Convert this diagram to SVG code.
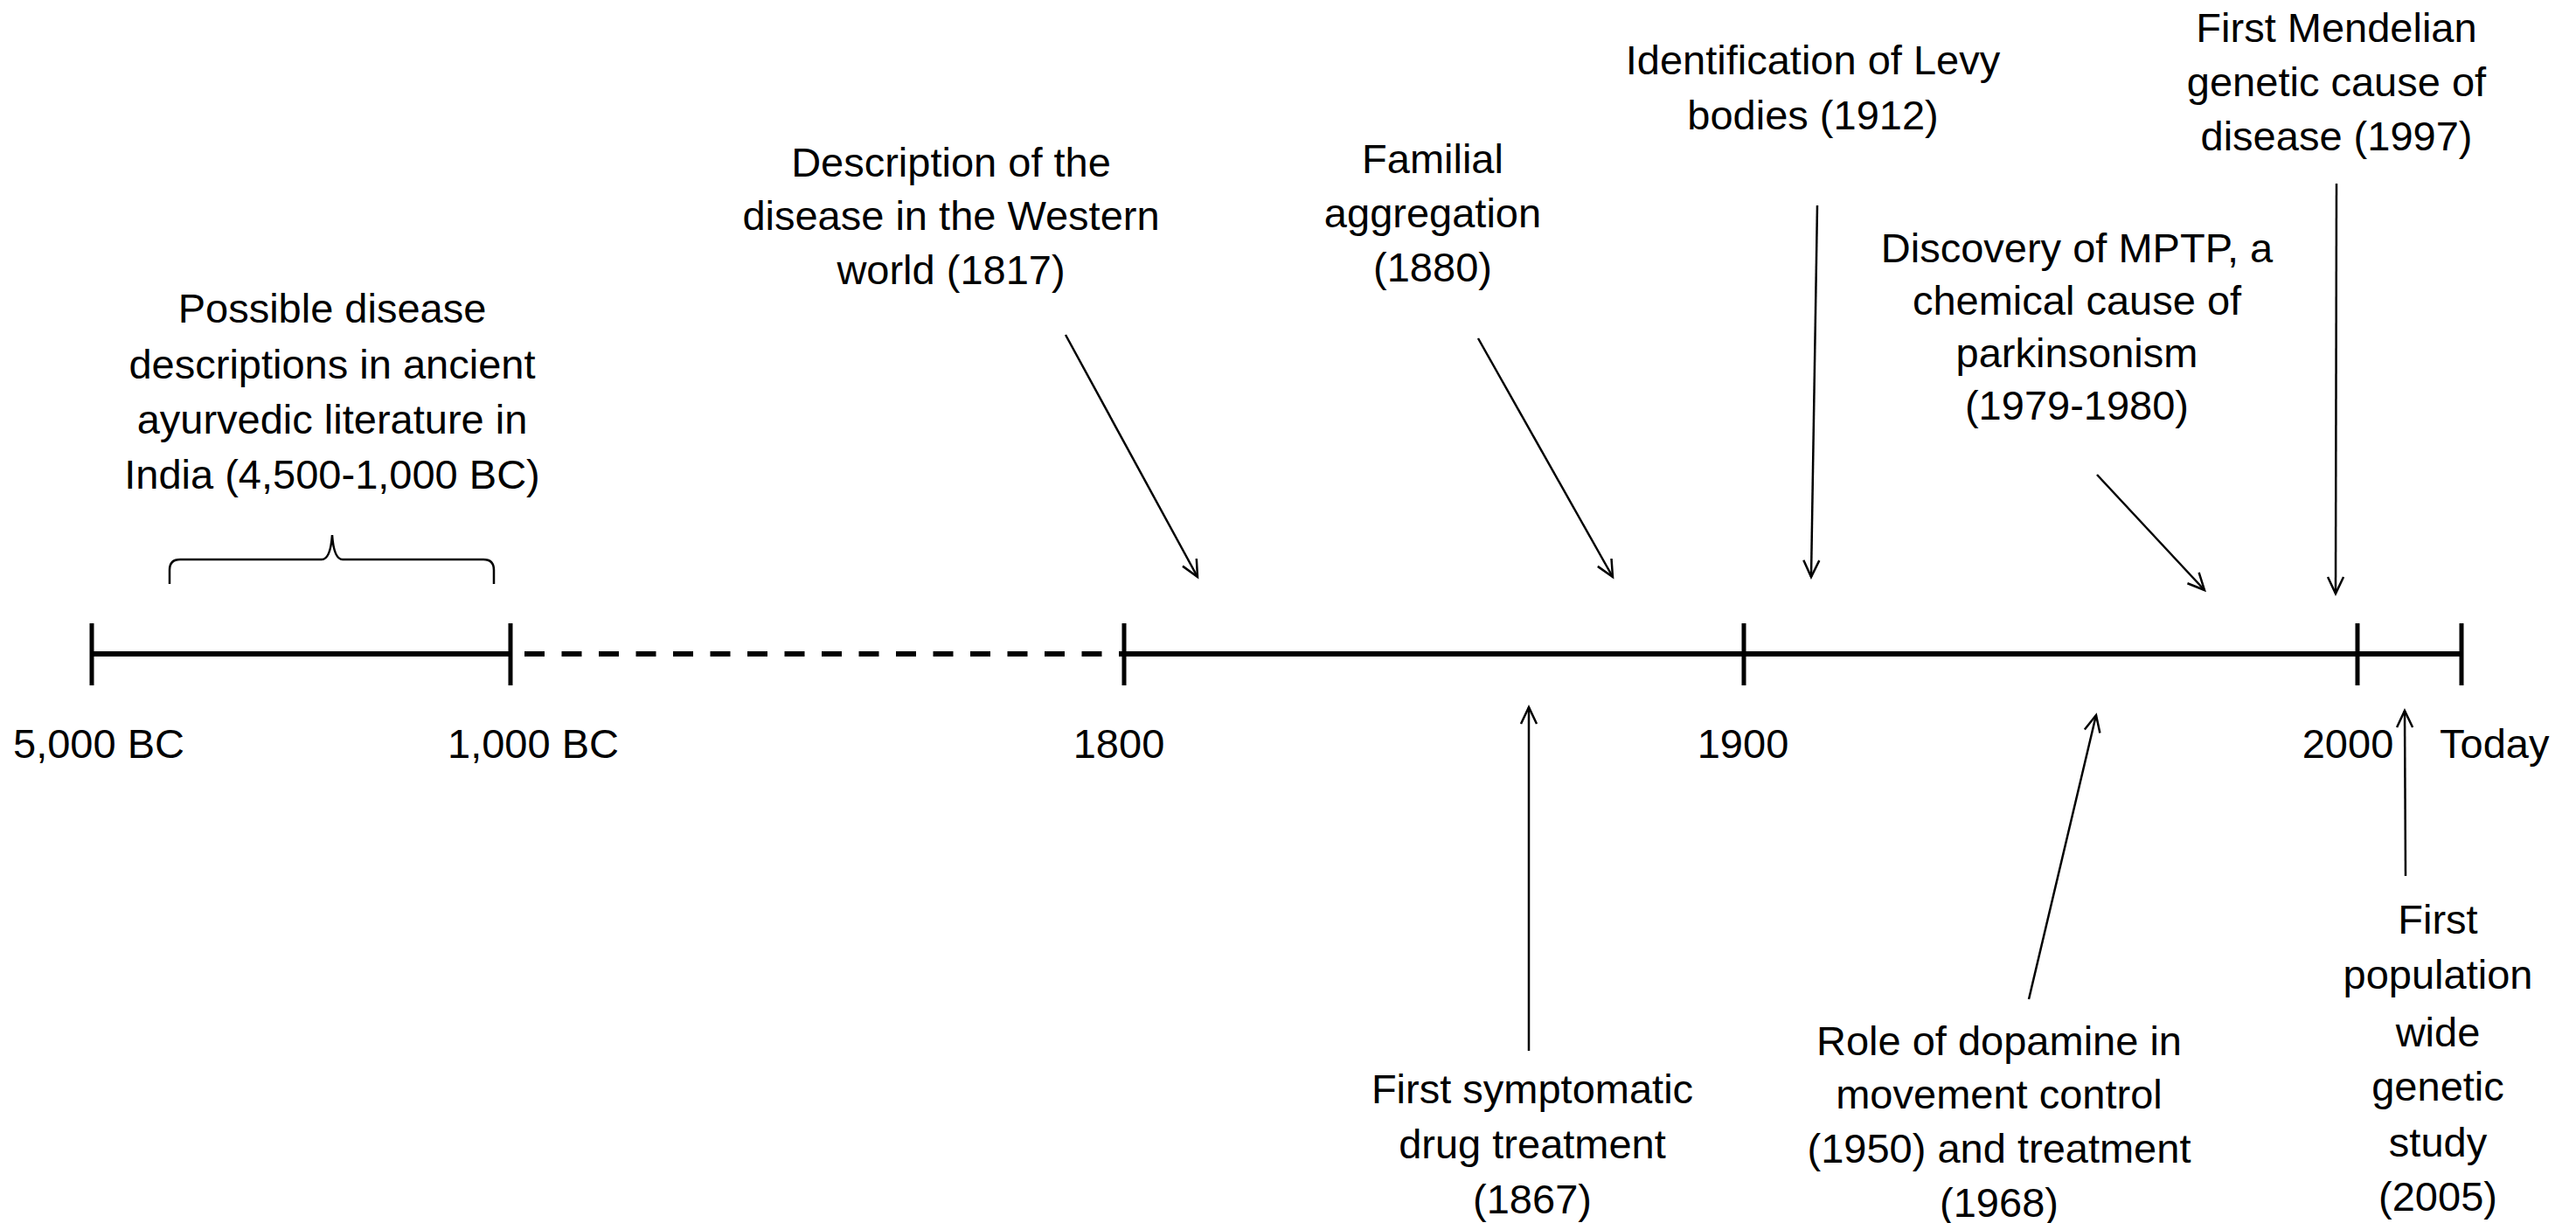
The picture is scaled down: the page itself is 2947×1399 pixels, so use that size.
<svg xmlns="http://www.w3.org/2000/svg" width="2947" height="1399" viewBox="0 0 2947 1399">
<style>
text{font-family:"Liberation Sans",Arial,sans-serif;font-size:47px;fill:#000;text-anchor:middle}
.axis{stroke:#000;stroke-width:6;fill:none}
.tick{stroke:#000;stroke-width:5}
.arrow{stroke:#000;stroke-width:2.5;fill:none;marker-end:url(#ah)}
.brace{stroke:#000;stroke-width:2.5;fill:none}
</style>
<defs>
<marker id="ah" markerUnits="userSpaceOnUse" markerWidth="30" markerHeight="30" viewBox="-25 -15 30 30" refX="0" refY="0" orient="auto">
<path d="M-19,-9 L0,0 L-19,9" fill="none" stroke="#000" stroke-width="2.5"/>
</marker>
</defs>
<rect width="2947" height="1399" fill="#fff"/>
<g id="timeline">
<line class="axis" x1="105" y1="748" x2="584" y2="748"/>
<line class="axis" x1="600" y1="748" x2="1286" y2="748" stroke-dasharray="23 19.5"/>
<line class="axis" x1="1286" y1="748" x2="2814" y2="748"/>
<line class="tick" x1="105" y1="713" x2="105" y2="784"/>
<line class="tick" x1="584" y1="713" x2="584" y2="784"/>
<line class="tick" x1="1286" y1="713" x2="1286" y2="784"/>
<line class="tick" x1="1995" y1="713" x2="1995" y2="784"/>
<line class="tick" x1="2697" y1="713" x2="2697" y2="784"/>
<line class="tick" x1="2816" y1="713" x2="2816" y2="784"/>
</g>
<g id="axis-labels">
<text x="113" y="867">5,000 BC</text>
<text x="610" y="867">1,000 BC</text>
<text x="1280" y="867">1800</text>
<text x="1994" y="867">1900</text>
<text x="2686" y="867">2000</text>
<text x="2791" y="867" style="text-anchor:start">Today</text>
</g>
<g id="connectors">
<path class="brace" d="M194,668 L194,652 Q194,640 206,640 L368,640 Q378,640 380,612 Q382,640 392,640 L553,640 Q565,640 565,652 L565,668"/>
<line class="arrow" x1="1219" y1="383" x2="1370" y2="660"/>
<line class="arrow" x1="1691" y1="387" x2="1845" y2="660"/>
<line class="arrow" x1="2079" y1="235" x2="2072" y2="660"/>
<line class="arrow" x1="2399" y1="543" x2="2522" y2="675"/>
<line class="arrow" x1="2673" y1="210" x2="2672" y2="679"/>
<line class="arrow" x1="1749" y1="1202" x2="1749" y2="809"/>
<line class="arrow" x1="2321" y1="1143" x2="2398" y2="818"/>
<line class="arrow" x1="2752" y1="1002" x2="2751" y2="813"/>
</g>
<g id="ayurvedic">
<text x="380" y="369">Possible disease</text>
<text x="380" y="433">descriptions in ancient</text>
<text x="380" y="496">ayurvedic literature in</text>
<text x="380" y="559">India (4,500-1,000 BC)</text>
</g>
<g id="western">
<text x="1088" y="202">Description of the</text>
<text x="1088" y="263">disease in the Western</text>
<text x="1088" y="325">world (1817)</text>
</g>
<g id="familial">
<text x="1639" y="198">Familial</text>
<text x="1639" y="260">aggregation</text>
<text x="1639" y="322">(1880)</text>
</g>
<g id="levy">
<text x="2074" y="85">Identification of Levy</text>
<text x="2074" y="148">bodies (1912)</text>
</g>
<g id="mendelian">
<text x="2673" y="48">First Mendelian</text>
<text x="2673" y="110">genetic cause of</text>
<text x="2673" y="172">disease (1997)</text>
</g>
<g id="mptp">
<text x="2376" y="300">Discovery of MPTP, a</text>
<text x="2376" y="360">chemical cause of</text>
<text x="2376" y="420">parkinsonism</text>
<text x="2376" y="480">(1979-1980)</text>
</g>
<g id="symptomatic">
<text x="1753" y="1262">First symptomatic</text>
<text x="1753" y="1325">drug treatment</text>
<text x="1753" y="1388">(1867)</text>
</g>
<g id="dopamine">
<text x="2287" y="1207">Role of dopamine in</text>
<text x="2287" y="1268">movement control</text>
<text x="2287" y="1330">(1950) and treatment</text>
<text x="2287" y="1392">(1968)</text>
</g>
<g id="population">
<text x="2789" y="1068">First</text>
<text x="2789" y="1131">population</text>
<text x="2789" y="1197">wide</text>
<text x="2789" y="1259">genetic</text>
<text x="2789" y="1323">study</text>
<text x="2789" y="1385">(2005)</text>
</g>
</svg>
